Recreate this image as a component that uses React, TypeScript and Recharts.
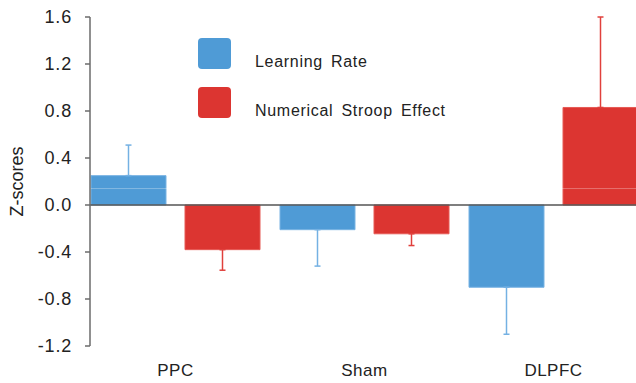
import React from "react";
import { Bar, BarChart, ErrorBar, Legend, ReferenceLine, XAxis, YAxis } from "recharts";

const categories = ["PPC", "Sham", "DLPFC"];
const learningRate = [0.25, -0.21, -0.7];
const learningRateErr = [0.26, 0.31, 0.4];
const stroopEffect = [-0.38, -0.245, 0.83];
const stroopEffectErr = [0.175, 0.1, 0.77];
const yTicks = [-1.2, -0.8, -0.4, 0, 0.4, 0.8, 1.2, 1.6];

const BLUE = "#4f9bd6";
const RED = "#dc3531";
const FONT = "'Liberation Sans', Arial, sans-serif";

// one-sided error: only drawn away from zero
const oneSided = (v: number, e: number) => [v < 0 ? e : 0, v > 0 ? e : 0];

const data = categories.map((name, i) => ({
    name,
    lr: learningRate[i],
    lrErr: oneSided(learningRate[i], learningRateErr[i]),
    nse: stroopEffect[i],
    nseErr: oneSided(stroopEffect[i], stroopEffectErr[i]),
}));

function LegendBox({ payload }: any) {
    return (
        <div style={{ fontFamily: FONT }}>
            {(payload || []).map((p: any) => (
                <div key={p.value} style={{ display: "flex", alignItems: "center", height: 49 }}>
                    <div style={{ width: 33, height: 31, borderRadius: 4, background: p.color }} />
                    <span
                        style={{
                            marginLeft: 24,
                            position: "relative",
                            top: 8,
                            fontSize: 16,
                            letterSpacing: 0.7,
                            wordSpacing: 3,
                            color: "#222",
                        }}
                    >
                        {p.value}
                    </span>
                </div>
            ))}
        </div>
    );
}

function ZLabel({ viewBox }: any) {
    const cy = viewBox ? viewBox.y + viewBox.height / 2 : 182;
    return (
        <text
            x={17}
            y={cy}
            transform={`rotate(-90, 17, ${cy})`}
            textAnchor="middle"
            dominantBaseline="central"
            fontSize={18}
            fontFamily={FONT}
            fill="#222"
        >
            Z-scores
        </text>
    );
}

export default function App() {
    return (
        <div style={{ position: "absolute", left: 0, top: 0, width: 636, height: 383, overflow: "hidden", background: "#fff" }}>
            <BarChart
                width={636}
                height={383}
                data={data}
                margin={{ top: 17, right: 0, bottom: 0, left: 0 }}
                barSize={75}
                barGap={19}
            >
                <XAxis
                    dataKey="name"
                    height={37}
                    axisLine={false}
                    tickLine={false}
                    tickMargin={12}
                    padding={{ left: -9, right: -12 }}
                    tick={{ fontSize: 17, fill: "#222", fontFamily: FONT, letterSpacing: 0.5 }}
                />
                <YAxis
                    width={90}
                    domain={[-1.2, 1.6]}
                    ticks={yTicks}
                    interval={0}
                    tickFormatter={(v: number) => v.toFixed(1)}
                    tickSize={5}
                    tickMargin={13}
                    axisLine={{ stroke: "#6b6b6b", strokeWidth: 1.5 }}
                    tickLine={{ stroke: "#6b6b6b", strokeWidth: 1.5 }}
                    tick={{ fontSize: 18, fill: "#222", fontFamily: FONT, letterSpacing: 0.8 }}
                    label={<ZLabel />}
                />
                <Legend
                    layout="vertical"
                    verticalAlign="middle"
                    align="center"
                    wrapperStyle={{ left: 198, top: 29, width: 300 }}
                    content={<LegendBox />}
                />
                <Bar dataKey="lr" name="Learning Rate" fill={BLUE} stroke="#78b3e3" strokeWidth={1} isAnimationActive={false}>
                    <ErrorBar dataKey="lrErr" width={3} stroke="#74b1e3" strokeWidth={1.5} />
                </Bar>
                <Bar dataKey="nse" name="Numerical Stroop Effect" fill={RED} stroke="#e65a55" strokeWidth={1} isAnimationActive={false}>
                    <ErrorBar dataKey="nseErr" width={3} stroke="#e0403c" strokeWidth={1.5} />
                </Bar>
                <ReferenceLine y={0.14} stroke="rgba(255,255,255,0.3)" strokeWidth={1} />
                <ReferenceLine y={0} stroke="#555" strokeWidth={1.5} />
            </BarChart>
        </div>
    );
}
